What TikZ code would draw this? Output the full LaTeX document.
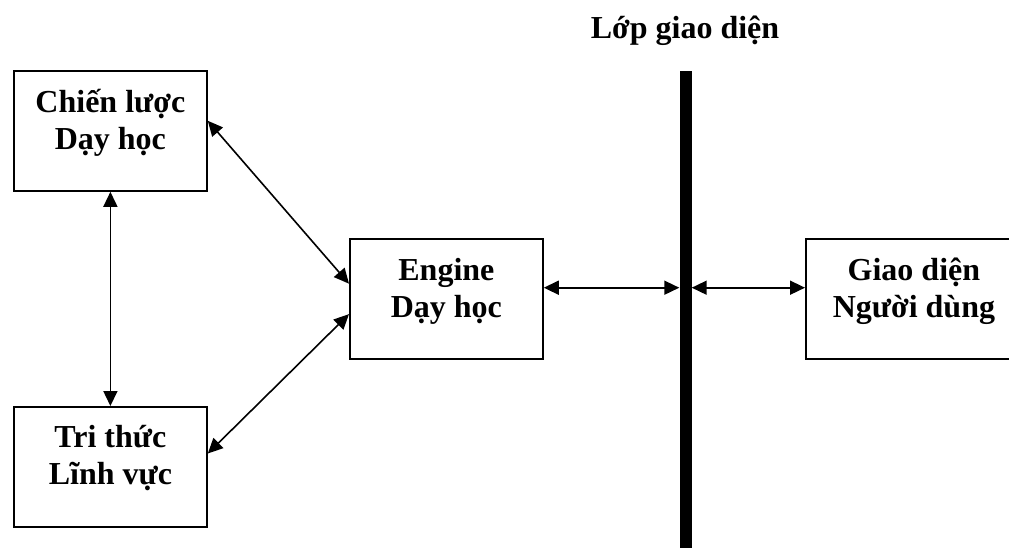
\documentclass[tikz,border=0pt]{standalone}
\usepackage{fontspec}
\setmainfont{Liberation Serif}
\usetikzlibrary{arrows.meta,calc}

\tikzset{
  box/.style={draw, line width=1.8pt, minimum width=193pt, minimum height=120pt,
              inner sep=0pt, anchor=north west},
  lbl/.style={font=\bfseries\fontsize{32}{37}\selectfont, align=center,
              inner sep=0pt, anchor=base},
  link/.style={line width=1.6pt, {Triangle[length=15pt,width=14pt]}-{Triangle[length=15pt,width=14pt]}},
  layer/.style={fill=black, draw=none, minimum width=12pt, minimum height=480pt,
                inner sep=0pt, anchor=north}
}

\begin{document}
\begin{tikzpicture}[x=1pt,y=-1pt]
  \useasboundingbox (0,0) rectangle (1009,547);
  \clip (0,0) rectangle (1009,547);

  % component boxes
  \node[box] (cl)  at (13,70)   {};
  \node[box] (tt)  at (13,406)  {};
  \node[box] (eng) at (349,238) {};
  \node[box, minimum width=216pt] (gd) at (805,238) {};

  % box captions (anchored on the baseline of the second line)
  \node[lbl] (clt)  at ([yshift=-79pt]cl.north)  {Chiến lược\\Dạy học};
  \node[lbl] (ttt)  at ([yshift=-78pt]tt.north)  {Tri thức\\Lĩnh vực};
  \node[lbl] (engt) at ([yshift=-79pt]eng.north) {Engine\\Dạy học};
  \node[lbl] (gdt)  at ([yshift=-79pt]gd.north)  {Giao diện\\Người dùng};

  % interface layer
  \node[layer] (bar) at (685.5,71) {};
  \node[lbl] (bart) at (685,38) {Lớp giao diện};

  % connectors
  \draw[link] (cl.south) -- (tt.north);
  \draw[link] ($(cl.north east)!0.417!(cl.south east)$) -- ($(eng.north west)!0.375!(eng.south west)$);
  \draw[link] ($(tt.north east)!0.39!(tt.south east)$) -- ($(eng.north west)!0.625!(eng.south west)$);
  \coordinate (e1) at ($(eng.north east)!0.408!(eng.south east)$);
  \coordinate (g1) at ($(gd.north west)!0.408!(gd.south west)$);
  \draw[link] (e1) -- (e1 -| bar.west);
  \draw[link] (g1 -| bar.east) -- (g1);
\end{tikzpicture}
\end{document}
